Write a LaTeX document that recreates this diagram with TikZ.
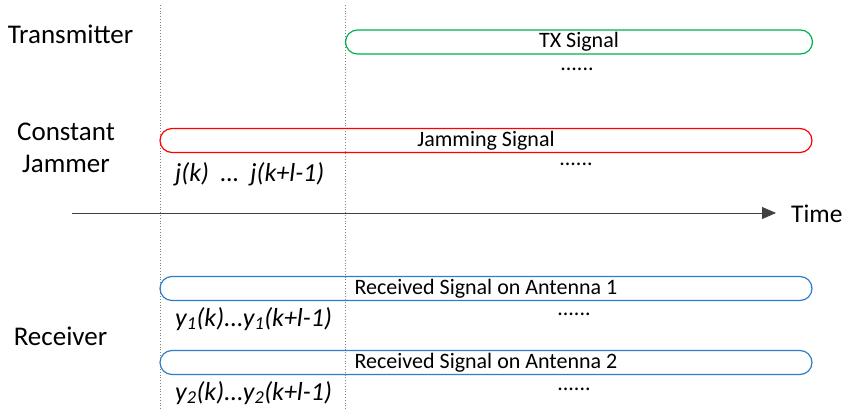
\documentclass[tikz,border=0pt]{standalone}
\usepackage{fontspec}
\setmainfont{Carlito}
\usetikzlibrary{arrows.meta}
\definecolor{txgreen}{RGB}{0,176,80}
\definecolor{rxblue}{RGB}{46,125,200}
\begin{document}
\begin{tikzpicture}[x=1pt, y=-1pt,
  every node/.style={inner sep=0pt},
  bar/.style={rectangle, rounded corners=12pt, line width=1.2pt, minimum height=24pt, font=\fontsize{22}{26}\selectfont},
  role/.style={anchor=base, align=center, font=\fontsize{27}{32}\selectfont},
  more/.style={anchor=base, font=\fontsize{22}{26}\selectfont},
  sample/.style={anchor=base west, font=\fontsize{26}{30}\selectfont\itshape}]
  \useasboundingbox (0,0) rectangle (843,410);

  % time marks
  \coordinate (m1top) at (160.5,5);
  \coordinate (m1bot) at (160.5,410);
  \coordinate (m2top) at (345,5);
  \coordinate (m2bot) at (345,410);
  \draw[gray, dotted, line width=0.8pt] (m1top) -- (m1bot);
  \draw[gray, dotted, line width=0.8pt] (m2top) -- (m2bot);

  % who
  \node[role] (tx) at (70.5,43) {Transmitter};
  \node[role] (jam) at (66,172) {Constant\\Jammer};
  \node[role] (rx) at (60.5,345) {Receiver};

  % signals
  \node[bar, draw=txgreen, minimum width=467pt] (txsig) at (579,42) {TX Signal};
  \node[bar, draw=red, minimum width=652pt] (jamsig) at (486,140.5) {Jamming Signal};
  \node[bar, draw=rxblue, minimum width=652pt] (rx1sig) at (486,288.5) {Received Signal on Antenna 1};
  \node[bar, draw=rxblue, minimum width=652pt] (rx2sig) at (486,362.5) {Received Signal on Antenna 2};

  \node[more] (txmore) at (577,70) {......};
  \node[more] (jammore) at (576,165) {......};
  \node[more] (rx1more) at (574,315) {......};
  \node[more] (rx2more) at (574,390) {......};

  % samples
  \node[sample] (jsamp) at (175,181) {j(k)\ \ …\ \ j(k+l-1)};
  \node[sample] (y1samp) at (175,326) {y\textsubscript{1}(k)...y\textsubscript{1}(k+l-1)};
  \node[sample] (y2samp) at (175,400) {y\textsubscript{2}(k)...y\textsubscript{2}(k+l-1)};

  % time axis
  \coordinate (t0) at (72,213);
  \coordinate (t1) at (776,213);
  \node[anchor=base west, font=\fontsize{25.5}{30}\selectfont] (time) at (791,222) {Time};
  \draw[line width=0.8pt, color=black!75, -{Triangle[length=14pt, width=12pt]}] (t0) -- (t1);
\end{tikzpicture}
\end{document}
